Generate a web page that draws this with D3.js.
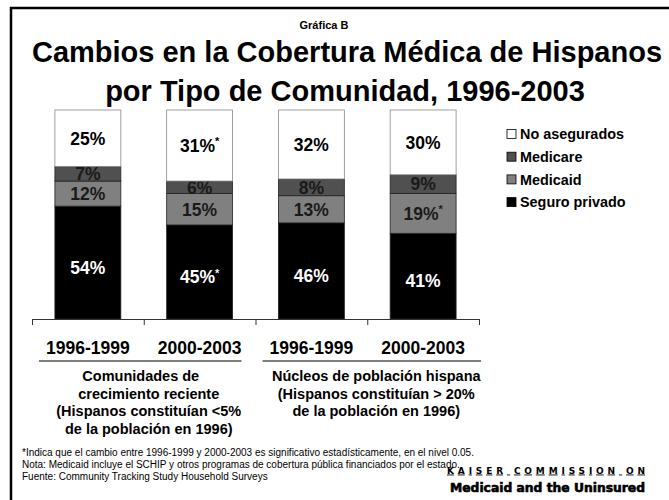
<!DOCTYPE html>
<html>
<head>
<meta charset="utf-8">
<script src="https://cdn.jsdelivr.net/npm/d3@7"></script>
<style>
  body { margin: 0; background: #fff; }
  svg { display: block; font-family: "Liberation Sans", Arial, sans-serif; }
</style>
</head>
<body>
<script>
const width = 669
const height = 500

// data
const periods = ["1996-1999", "2000-2003", "1996-1999", "2000-2003"]
const privado = [54, 45, 46, 41]
const medicaid = [12, 15, 13, 19]
const medicare = [7, 6, 8, 9]
const noAsegurados = [25, 31, 32, 30]
// significance flags (asterisks)
const sigPrivado = [false, true, false, false]
const sigMedicaid = [false, false, false, true]
const sigNoAseg = [false, true, false, false]

const seriesNames = ["Seguro privado", "Medicaid", "Medicare", "No asegurados"]
const seriesColors = ["#000000", "#808080", "#505050", "#ffffff"]
const labelColors = ["#ffffff", "#1a1a1a", "#1a1a1a", "#000000"]
const legendOrder = ["No asegurados", "Medicare", "Medicaid", "Seguro privado"]

const groupLabels = [
    ["Comunidades de", "crecimiento reciente", "(Hispanos constituían <5%", "de la población en 1996)"],
    ["Núcleos de población hispana", "(Hispanos constituían > 20%", "de la población en 1996)"]
]
const footnotes = [
    "*Indica que el cambio entre 1996-1999 y 2000-2003 es significativo estadísticamente, en el nivel 0.05.",
    "Nota: Medicaid incluye el SCHIP y otros programas de cobertura pública financiados por el estado.",
    "Fuente: Community Tracking Study Household Surveys"
]

const rows = periods.map((p, i) => ({
    idx: i,
    "Seguro privado": privado[i],
    "Medicaid": medicaid[i],
    "Medicare": medicare[i],
    "No asegurados": noAsegurados[i]
}))
const sig = { "Seguro privado": sigPrivado, "Medicaid": sigMedicaid, "Medicare": [false, false, false, false], "No asegurados": sigNoAseg }

const svg = d3.select("body").append("svg")
    .attr("width", width)
    .attr("height", height)

// frame
svg.append("path")
    .attr("d", `M11,${height} V8 H${width}`)
    .attr("fill", "none")
    .attr("stroke", "#000")
    .attr("stroke-width", 2.5)

// titles
svg.append("text").attr("x", 324).attr("y", 29)
    .attr("text-anchor", "middle").attr("font-weight", "bold").attr("font-size", 11)
    .text("Gráfica B")
svg.append("text").attr("x", 347).attr("y", 62)
    .attr("text-anchor", "middle").attr("font-weight", "bold").attr("font-size", 29)
    .text("Cambios en la Cobertura Médica de Hispanos")
svg.append("text").attr("x", 345).attr("y", 100.5)
    .attr("text-anchor", "middle").attr("font-weight", "bold").attr("font-size", 29)
    .text("por Tipo de Comunidad, 1996-2003")

// scales
const x = d3.scaleBand()
    .domain(d3.range(periods.length))
    .range([32, 479])
    .paddingInner(0.41)
    .paddingOuter(0.205)
const xCell = d3.scaleLinear().domain([0, periods.length]).range([32, 479])
const y = d3.scaleLinear().domain([0, 100]).range([319, 110])

const stack = d3.stack().keys(seriesNames)
const stacked = stack(rows)

// bars
const layers = svg.append("g")
    .selectAll("g")
    .data(stacked)
    .join("g")
    .attr("fill", (d, i) => seriesColors[i])

layers.selectAll("rect")
    .data(d => d.map(s => Object.assign(s, { key: d.key, top: d.key === "No asegurados" ? 100 : s[1] })))
    .join("rect")
    .attr("x", (d, i) => x(i))
    .attr("width", x.bandwidth())
    .attr("y", d => y(d.top))
    .attr("height", d => y(d[0]) - y(d.top))
    .attr("stroke", (d) => d.key === "No asegurados" ? "#888" : "#222")
    .attr("stroke-width", 0.8)

// bar labels
layers.each(function (layer, li) {
    const g = d3.select(this)
    layer.forEach((s, i) => {
        const cy = (y(s[0]) + y(s.top)) / 2 + (layer.key === "Seguro privado" ? 5 : 0)
        const t = g.append("text")
            .attr("x", x(i) + x.bandwidth() / 2)
            .attr("y", cy)
            .attr("dy", "0.36em")
            .attr("text-anchor", "middle")
            .attr("font-weight", "bold")
            .attr("font-size", 17.5)
            .attr("fill", labelColors[li])
        t.append("tspan").text(s.data[layer.key] + "%")
        if (sig[layer.key][i]) {
            t.append("tspan").attr("font-size", 11).attr("dy", "-0.6em").text("*")
        }
    })
})

// axis
const axis = svg.append("g")
    .attr("transform", "translate(0,319)")
    .call(d3.axisBottom(xCell).ticks(periods.length).tickFormat("").tickSizeInner(6).tickSizeOuter(0))
axis.select(".domain").attr("stroke", "#333")
axis.selectAll(".tick line").attr("stroke", "#333")

// period labels
svg.append("g")
    .selectAll("text")
    .data(periods)
    .join("text")
    .attr("x", (d, i) => x(i) + x.bandwidth() / 2)
    .attr("y", 354)
    .attr("text-anchor", "middle")
    .attr("font-weight", "bold")
    .attr("font-size", 17.5)
    .text(d => d)

// group underlines and labels
groupLabels.forEach((lines, gi) => {
    const x0 = xCell(gi * 2) + 7
    const x1 = gi === 0 ? xCell(gi * 2 + 2) - 14 : xCell(gi * 2 + 2) + 2
    svg.append("line")
        .attr("x1", x0).attr("x2", x1)
        .attr("y1", 361).attr("y2", 361)
        .attr("stroke", "#000").attr("stroke-width", 1.2)
    const cx = (xCell(gi * 2) + xCell(gi * 2 + 2)) / 2 + (gi === 0 ? 5 : 9)
    svg.append("g").selectAll("text")
        .data(lines)
        .join("text")
        .attr("x", (d, i) => gi === 0 && i === 0 ? cx - 8 : cx)
        .attr("y", (d, i) => 381 + i * 17.5)
        .attr("text-anchor", "middle")
        .attr("font-weight", "bold")
        .attr("font-size", 14.5)
        .text(d => d)
})

// legend
const legend = svg.append("g")
    .selectAll("g")
    .data(legendOrder)
    .join("g")
    .attr("transform", (d, i) => `translate(507, ${134 + i * 22.7})`)
legend.append("rect")
    .attr("x", 0).attr("y", -4.5)
    .attr("width", 9).attr("height", 9)
    .attr("fill", d => seriesColors[seriesNames.indexOf(d)])
    .attr("stroke", "#000").attr("stroke-width", 0.8)
legend.append("text")
    .attr("x", 13)
    .attr("dy", "0.36em")
    .attr("font-weight", "bold")
    .attr("font-size", 14.4)
    .text(d => d)

// footnotes
svg.append("g").selectAll("text")
    .data(footnotes)
    .join("text")
    .attr("x", 22)
    .attr("y", (d, i) => 455.5 + i * 12.2)
    .attr("font-size", 10)
    .text(d => d)

// Kaiser logo text
svg.append("text")
    .attr("x", 447).attr("y", 473.5)
    .attr("font-family", "'DejaVu Sans', sans-serif")
    .attr("font-weight", "bold").attr("font-size", 9)
    .attr("text-decoration", "underline")
    .attr("textLength", 198).attr("lengthAdjust", "spacing")
    .text("KAISER COMMISSION ON")
svg.append("text")
    .attr("x", 450).attr("y", 492)
    .attr("font-family", "'DejaVu Sans', sans-serif")
    .attr("font-weight", "bold").attr("font-size", 12)
    .attr("stroke", "#000").attr("stroke-width", 0.6)
    .attr("textLength", 195).attr("lengthAdjust", "spacingAndGlyphs")
    .text("Medicaid and the Uninsured")
</script>
</body>
</html>
